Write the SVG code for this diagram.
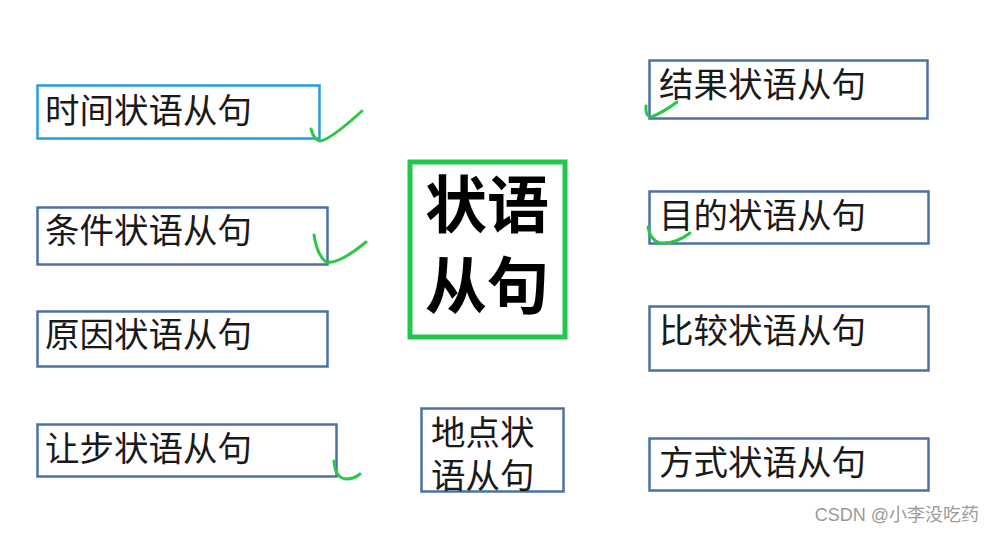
<svg xmlns="http://www.w3.org/2000/svg" width="996" height="533" viewBox="0 0 996 533">
<style>
.box{fill:#fff;stroke:#4a72a6;stroke-width:2.5}
.t{font-family:"Noto Sans CJK SC","Noto Sans",sans-serif;font-size:34.5px;fill:#1a1a1a}
.big{font-family:"Noto Sans CJK SC","Noto Sans",sans-serif;font-size:62px;font-weight:bold;fill:#000}
.chk{fill:none;stroke:#2ec646;stroke-width:3;stroke-linecap:round;stroke-linejoin:round}
</style>
<rect width="996" height="533" fill="#fff"/>
<g id="n-time"><rect x="37.5" y="85.5" width="282" height="53" fill="#fff" stroke="#2a9be0" stroke-width="2.5"/><text class="t" x="45" y="123">时间状语从句</text></g>
<g id="n-cond"><rect class="box" x="37.5" y="207.5" width="290" height="57"/><text class="t" x="45" y="243">条件状语从句</text></g>
<g id="n-cause"><rect class="box" x="37.5" y="311.5" width="290" height="55"/><text class="t" x="45" y="347">原因状语从句</text></g>
<g id="n-conc"><rect class="box" x="37.5" y="424.5" width="299" height="52"/><text class="t" x="45" y="461">让步状语从句</text></g>
<g id="n-center"><rect x="410" y="162" width="155" height="175" fill="#fff" stroke="#22c84a" stroke-width="5"/><text class="big" x="487" y="228" text-anchor="middle">状语</text><text class="big" x="487" y="309" text-anchor="middle">从句</text></g>
<g id="n-place"><rect class="box" x="421.5" y="408.5" width="142" height="83"/><text class="t" x="431" y="445" font-size="33">地点状</text><text class="t" x="431" y="488" font-size="33">语从句</text></g>
<g id="n-result"><rect class="box" x="649.5" y="60.5" width="278" height="58"/><text class="t" x="659" y="97">结果状语从句</text></g>
<g id="n-purpose"><rect class="box" x="649.5" y="191.5" width="279" height="52"/><text class="t" x="659" y="228">目的状语从句</text></g>
<g id="n-compare"><rect class="box" x="649.5" y="306.5" width="279" height="64"/><text class="t" x="659" y="343">比较状语从句</text></g>
<g id="n-manner"><rect class="box" x="649.5" y="438.5" width="279" height="52"/><text class="t" x="659" y="475">方式状语从句</text></g>
<g id="checks">
<path class="chk" d="M311 129 Q314 140 320 141 Q330 140 362 111"/>
<path class="chk" d="M314 235 Q317 255 326 262 Q338 265 366 242"/>
<path class="chk" d="M334 461 Q335 478 346 479 Q354 479 360 474"/>
<path class="chk" d="M646 106 Q645 116 651 117 Q664 112 677 102"/>
<path class="chk" d="M648 227 Q650 240 660 243 Q676 244 690 233"/>
</g>
<text x="979" y="521" text-anchor="end" font-family="'Liberation Sans','Noto Sans CJK SC',sans-serif" font-size="18" fill="#9a9a9a">CSDN @小李没吃药</text>
</svg>
